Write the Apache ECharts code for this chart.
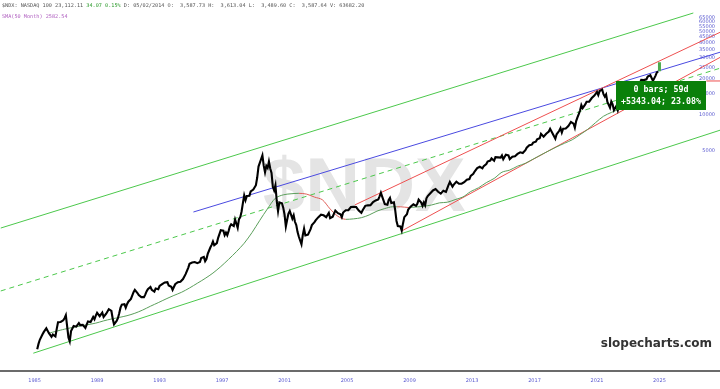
<!DOCTYPE html>
<html><head><meta charset="utf-8">
<script src="https://cdn.jsdelivr.net/npm/echarts@6/dist/echarts.min.js"></script>
<style>html,body{margin:0;padding:0;background:#fff}#c{width:720px;height:389px}</style>
</head><body><div id="c"></div>
<script>
// ---- DATA ----
const firstYear = 1985, firstMonth = 10;
const close1985 = [110, 122, 132];
const close1986 = [134, 146, 153, 157, 165, 164, 150, 155, 140, 146, 146, 141];
const close1987 = [163, 185, 190, 186, 188, 192, 200, 212, 204, 138, 128, 156];
const close1988 = [160, 172, 168, 170, 165, 182, 175, 170, 176, 172, 166, 177];
const close1989 = [188, 182, 186, 195, 205, 196, 210, 222, 221, 208, 212, 223];
const close1990 = [205, 210, 218, 211, 238, 245, 230, 198, 178, 172, 190, 200];
const close1991 = [220, 245, 260, 255, 262, 245, 262, 275, 278, 290, 285, 330];
const close1992 = [345, 345, 325, 312, 315, 300, 310, 300, 315, 335, 350, 361];
const close1993 = [365, 345, 353, 333, 355, 355, 350, 372, 378, 385, 380, 398];
const close1994 = [405, 400, 375, 370, 366, 345, 365, 385, 388, 400, 395, 404];
const close1995 = [405, 425, 440, 467, 480, 528, 570, 571, 585, 580, 590, 576];
const close1996 = [577, 598, 590, 637, 660, 650, 600, 625, 690, 700, 780, 821];
const close1997 = [875, 815, 785, 850, 940, 950, 1090, 1060, 1080, 990, 1040, 990];
const close1998 = [1070, 1170, 1220, 1240, 1180, 1340, 1360, 1140, 1345, 1400, 1560, 1836];
const close1999 = [2130, 1940, 2100, 2160, 2110, 2300, 2280, 2380, 2410, 2590, 3000, 3708];
const close2000 = [3570, 4270, 4600, 3770, 3320, 3760, 3610, 4080, 3570, 3280, 2510, 2341];
const close2001 = [2590, 1910, 1570, 1860, 1800, 1830, 1680, 1470, 1170, 1330, 1500, 1577];
const close2002 = [1550, 1360, 1450, 1280, 1200, 1050, 960, 950, 830, 990, 1120, 984];
const close2003 = [980, 1000, 1020, 1110, 1200, 1200, 1270, 1320, 1300, 1400, 1400, 1468];
const close2004 = [1490, 1450, 1440, 1400, 1460, 1520, 1370, 1360, 1410, 1500, 1590, 1622];
const close2005 = [1510, 1500, 1480, 1400, 1530, 1500, 1600, 1580, 1600, 1590, 1700, 1645];
const close2006 = [1710, 1670, 1700, 1700, 1590, 1580, 1520, 1600, 1650, 1740, 1780, 1757];
const close2007 = [1800, 1760, 1770, 1870, 1930, 1930, 1930, 1970, 2090, 2240, 2080, 2085];
const close2008 = [1800, 1760, 1780, 1950, 2030, 1840, 1830, 1860, 1600, 1300, 1180, 1212];
const close2009 = [1170, 1080, 1240, 1400, 1450, 1480, 1620, 1630, 1720, 1710, 1790, 1860];
const close2010 = [1740, 1810, 1960, 2000, 1850, 1740, 1860, 1760, 2010, 2100, 2100, 2218];
const close2011 = [2270, 2340, 2340, 2400, 2400, 2280, 2340, 2200, 2180, 2330, 2260, 2278];
const close2012 = [2430, 2600, 2760, 2700, 2520, 2620, 2640, 2770, 2800, 2660, 2680, 2661];
const close2013 = [2730, 2740, 2820, 2880, 2990, 2910, 3100, 3070, 3220, 3370, 3490, 3592];
const close2014 = [3500, 3690, 3600, 3580, 3740, 3850, 3890, 4080, 4050, 4160, 4340, 4236];
const close2015 = [4150, 4440, 4330, 4420, 4510, 4400, 4590, 4270, 4180, 4650, 4670, 4593];
const close2016 = [4280, 4200, 4480, 4340, 4520, 4420, 4730, 4770, 4880, 4850, 4810, 4864];
const close2017 = [5080, 5330, 5440, 5580, 5790, 5650, 5880, 6000, 5980, 6250, 6360, 6397];
const close2018 = [6950, 6870, 6580, 6600, 6970, 7040, 7270, 7660, 7630, 6970, 6950, 6330];
const close2019 = [6900, 7100, 7380, 7760, 7130, 7670, 7850, 7700, 7750, 8080, 8400, 8733];
const close2020 = [8990, 8460, 7810, 8890, 9550, 10160, 10900, 12110, 11420, 11050, 12270, 12888];
const close2021 = [12930, 12910, 13090, 13860, 13690, 14550, 14960, 15580, 14690, 15850, 16140, 16320];
const close2022 = [14930, 14240, 14840, 12850, 12640, 11500, 12950, 12270, 10970, 11400, 11950, 10940];
const close2023 = [12050, 12040, 13180, 13250, 14250, 15180, 15760, 15500, 14720, 14410, 15950, 16826];
const close2024 = [17140, 18040, 18250, 17440, 18540, 19680, 19360, 19570, 20060, 19890, 20930, 21012];
const close2025 = [21480, 20880, 19280, 19570, 21340, 22680, 23112];
// last (current) bar, drawn green: [date, low, high]
const lastBar = ['2025-08', 23200, 27600];

// SMA(50 Month) read at half-year points
const smaDates = ['1986-07','1987-07','1988-07','1989-07','1990-01','1990-07','1991-01','1991-07','1992-01','1992-07','1993-01','1993-07','1994-01','1994-07','1995-01','1995-07','1996-01','1996-07','1997-01','1997-07','1998-01','1998-07','1999-01','1999-07','2000-01','2000-07','2001-01','2001-07','2002-01','2002-07','2003-01','2003-07','2004-01','2004-07','2005-01','2005-07','2006-01','2006-07','2007-01','2007-07','2008-01','2008-07','2009-01','2009-07','2010-01','2010-07','2011-01','2011-07','2012-01','2012-07','2013-01','2013-07','2014-01','2014-07','2015-01','2015-07','2016-01','2016-07','2017-01','2017-07','2018-01','2018-07','2019-01','2019-07','2020-01','2020-07','2021-01','2021-07','2022-01','2022-07','2023-01','2023-07','2024-01','2024-07','2025-01','2025-07'];
const smaValues = [150,162,172,182,190,197,203,210,220,234,252,270,290,310,330,358,392,430,477,540,621,720,847,1040,1317,1650,2016,2150,2195,2214,2180,2059,1957,1639,1423,1342,1354,1385,1460,1572,1651,1709,1709,1685,1702,1727,1769,1843,1865,1961,2063,2292,2463,2720,2948,3324,3464,3733,3946,4280,4638,5020,5410,5800,6208,6850,7604,8650,9762,10500,11206,12000,12896,14000,15165,16301];
const smaFallingFrom = ['2002-07', '2008-10'];
const smaFallingTo   = ['2005-07', '2009-09'];

// trend lines: [startDate, startValue, endDate, endValue]
const channelTop    = ['1983-06', 1135, '2027-10', 71260];
const channelMid    = ['1983-06', 338, '2029-07', 24700];
const channelBottom = ['1985-07', 102, '2029-07', 7490];
const blueLine      = ['1995-10', 1545, '2029-07', 33600];
const redUpper      = ['2006-02', 1770, '2029-07', 49400];
const redLower      = ['2009-02', 1073, '2029-07', 30500];
const redLevel      = ['2028-08', 19250, '2029-07', 19250];

const yTickValues = [5000,10000,15000,20000,25000,30000,35000,40000,45000,50000,55000,60000,65000,70000];
const xTickYears = [1985,1989,1993,1997,2001,2005,2009,2013,2017,2021,2025];
const xTickMonth = 8; // labels sit at about August of each labelled year

const titleLine1a = '$NDX: NASDAQ 100 23,112.11 ';
const titleLine1b = '34.07 0.15%';
const titleLine1c = ' D: 05/02/2014 O:  3,587.73 H:  3,613.04 L:  3,489.60 C:  3,587.64 V: 63682.20';
const titleLine2 = 'SMA(50 Month) 2582.54';
const measureText = ['0 bars; 59d', '+5343.04; 23.08%'];

// ---- BUILD ----
function t(y, m) { return y + (m - 0.5) / 12; }
function td(s) { const p = s.split('-'); return t(+p[0], +p[1]); }
const yearly = [close1985, close1986, close1987, close1988, close1989, close1990, close1991, close1992, close1993, close1994,
  close1995, close1996, close1997, close1998, close1999, close2000, close2001, close2002, close2003, close2004,
  close2005, close2006, close2007, close2008, close2009, close2010, close2011, close2012, close2013, close2014,
  close2015, close2016, close2017, close2018, close2019, close2020, close2021, close2022, close2023, close2024, close2025];
const priceData = [];
yearly.forEach((arr, yi) => {
  const y = firstYear + yi;
  const m0 = yi === 0 ? firstMonth : 1;
  arr.forEach((v, i) => priceData.push([t(y, m0 + i), v]));
});
const smaData = smaDates.map((d, i) => [td(d), smaValues[i]]);
function seg(l) { return [[td(l[0]), l[1]], [td(l[2]), l[3]]]; }
function lineSeries(l, color, type, w) {
  return { type: 'line', data: seg(l), symbol: 'none', silent: true, z: 3,
    lineStyle: { color: color, width: w || 1, type: type || 'solid' } };
}
const pieces = smaFallingFrom.map((d, i) => ({ gte: td(d), lt: td(smaFallingTo[i]), color: '#e0605a' }));
const labelVals = xTickYears.map(y => t(y, xTickMonth));

const chart = echarts.init(document.getElementById('c'), null, { renderer: 'canvas' });
chart.setOption({
  animation: false,
  backgroundColor: '#ffffff',
  grid: { left: 0, right: 0, top: 0, bottom: 18 },
  xAxis: {
    type: 'value', min: 1983.41, max: 2029.5, scale: true,
    axisLine: { show: true, onZero: false, lineStyle: { color: '#6b6b6b', width: 2 } },
    axisTick: { show: false },
    splitLine: { show: false },
    axisLabel: {
      customValues: labelVals,
      formatter: v => String(Math.floor(v)),
      color: '#5a5ad0', fontSize: 5, fontFamily: 'DejaVu Sans', margin: 7
    }
  },
  yAxis: {
    type: 'log', logBase: 10, min: 72.4, max: 91500, position: 'right',
    axisLine: { show: false }, axisTick: { show: false }, splitLine: { show: false },
    axisLabel: {
      inside: true, customValues: yTickValues, color: '#5a5ad0', fontSize: 5,
      fontFamily: 'DejaVu Sans', margin: 5, formatter: v => String(Math.round(v))
    }
  },
  visualMap: [{ type: 'piecewise', show: false, seriesIndex: 1, dimension: 0,
    pieces: pieces, outOfRange: { color: '#5a9e5a' } }],
  series: [
    { type: 'line', data: priceData, symbol: 'none', z: 5, silent: true,
      lineStyle: { color: '#000', width: 2.1, join: 'miter' } },
    { type: 'line', data: smaData, symbol: 'none', smooth: 0.3, z: 4, silent: true,
      lineStyle: { width: 1 } },
    lineSeries(channelTop, '#4cc84c'),
    lineSeries(channelMid, '#4cc84c', [5, 4]),
    lineSeries(channelBottom, '#4cc84c'),
    lineSeries(blueLine, '#4a4ae0'),
    lineSeries(redUpper, '#ee5050'),
    lineSeries(redLower, '#ee5050'),
    lineSeries(redLevel, '#ee5050'),
    lineSeries([lastBar[0], lastBar[1], lastBar[0], lastBar[2]], '#4caa4c', 'solid', 3)
  ],
  graphic: [
    { type: 'text', left: 263, top: 152, z: 0, silent: true,
      style: { text: '$NDX', fontSize: 76, fontFamily: 'Liberation Sans', fontWeight: 'bold', fill: '#e4e4e4' } },
    { type: 'text', left: 2, top: 3, z: 10,
      style: { text: '{a|' + titleLine1a + '}{b|' + titleLine1b + '}{a|' + titleLine1c + '}', rich: {
        a: { fontFamily: 'DejaVu Sans Mono', fontSize: 5.2, fill: '#555' },
        b: { fontFamily: 'DejaVu Sans Mono', fontSize: 5.2, fill: '#2a9a2a' } } } },
    { type: 'text', left: 2, top: 14, z: 10,
      style: { text: titleLine2, fontFamily: 'DejaVu Sans Mono', fontSize: 5.2, fill: '#b060c0' } },
    { type: 'rect', left: 616, top: 81, z: 100, shape: { width: 90, height: 29 }, style: { fill: '#0a800a' } },
    { type: 'text', x: 661, y: 90, z: 101, style: { text: measureText[0], align: 'center', verticalAlign: 'middle',
        fontFamily: 'DejaVu Sans Mono', fontWeight: 'bold', fontSize: 8.3, fill: '#fff' } },
    { type: 'text', x: 661, y: 102, z: 101, style: { text: measureText[1], align: 'center', verticalAlign: 'middle',
        fontFamily: 'DejaVu Sans Mono', fontWeight: 'bold', fontSize: 8.3, fill: '#fff' } },
    { type: 'text', right: 8, top: 338, z: 10,
      style: { text: 'slopecharts.com', fontFamily: 'DejaVu Sans', fontWeight: 'bold', fontSize: 12, fill: '#333' } }
  ]
});
</script></body></html>
